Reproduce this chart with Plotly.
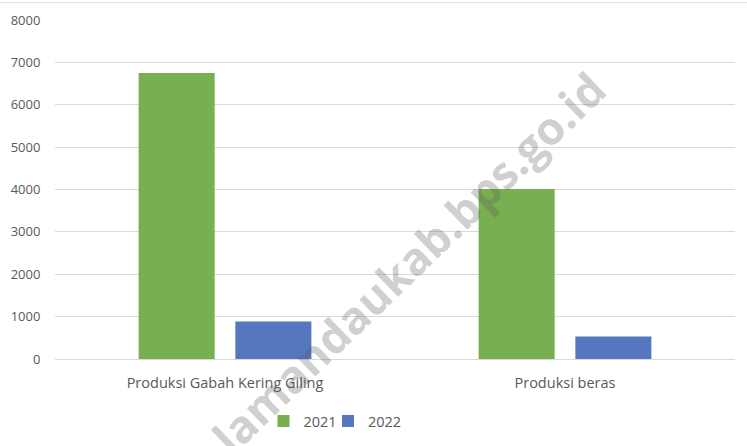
import plotly.graph_objects as go

categories = ["Produksi Gabah Kering Giling", "Produksi beras"]
values_2021 = [6750, 4010]
values_2022 = [885, 530]
series_names = ["2021", "2022"]
y_ticks = [0, 1000, 2000, 3000, 4000, 5000, 6000, 7000, 8000]

GREEN = "#78AF50"
BLUE = "#5577BE"
TEXT = "#595959"
FONT = "Open Sans"

fig = go.Figure()
fig.add_trace(go.Bar(x=categories, y=values_2021, name=series_names[0], legend="legend",
                     marker=dict(color=GREEN, line=dict(width=0))))
fig.add_trace(go.Bar(x=categories, y=values_2022, name=series_names[1], legend="legend2",
                     marker=dict(color=BLUE, line=dict(width=0))))

legend_common = dict(orientation="h", xanchor="left", y=-0.183, yanchor="middle",
                     font=dict(size=14.5, color=TEXT), bgcolor="rgba(0,0,0,0)")

fig.update_layout(
    width=747, height=446,
    margin=dict(l=55, r=12, t=20, b=87, autoexpand=False),
    paper_bgcolor="white", plot_bgcolor="white",
    barmode="group", bargap=0.431, bargroupgap=0.214,
    font=dict(family=FONT, color=TEXT),
    showlegend=True,
    legend=dict(x=(263.5 - 55) / 680, **legend_common),
    legend2=dict(x=(328 - 55) / 680, **legend_common),
    xaxis=dict(showgrid=False, showline=False, zeroline=False, automargin=False,
               ticks="outside", ticklen=11, tickcolor="rgba(0,0,0,0)",
               tickfont=dict(size=14.5, color=TEXT)),
    yaxis=dict(range=[0, 8000], tickvals=y_ticks, showgrid=True, gridcolor="#D9D9D9",
               gridwidth=1, zeroline=True, zerolinecolor="#D9D9D9", zerolinewidth=1,
               automargin=False,
               showline=False, ticks="outside", ticklen=11, tickcolor="rgba(0,0,0,0)",
               tickfont=dict(size=13, color=TEXT)),
)

fig.add_shape(type="line", xref="paper", yref="paper",
              x0=-55/680, x1=(747-55)/680, y0=(359-2.5)/339, y1=(359-2.5)/339,
              line=dict(color="#E3E3E3", width=1))

fig.add_annotation(text="<b>lamandaukab.bps.go.id</b>", xref="paper", yref="paper",
                   x=(408-55)/680, y=(359-262)/339, xanchor="center", yanchor="middle",
                   showarrow=False, textangle=-44,
                   font=dict(family=FONT, size=45, color="rgba(90,90,90,0.3)"))

fig.write_html("out.html", config={"displayModeBar": False},
               post_script="document.body.style.margin='0px';")
